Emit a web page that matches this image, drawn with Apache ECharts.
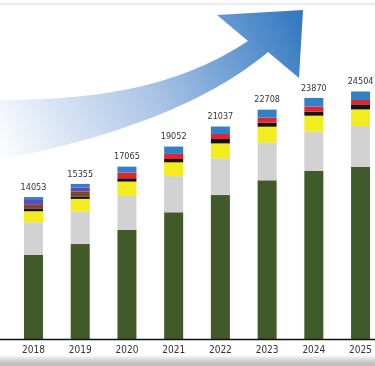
<!DOCTYPE html>
<html>
<head>
<meta charset="utf-8">
<script src="https://cdn.jsdelivr.net/npm/echarts@6/dist/echarts.min.js"></script>
<style>
html,body{margin:0;padding:0;background:#fff;}
#c{width:375px;height:366px;}
</style>
</head>
<body>
<div id="c"></div>
<script>
const years = ['2018','2019','2020','2021','2022','2023','2024','2025'];
const totals = [14053, 15355, 17065, 19052, 21037, 22708, 23870, 24504];
const greenVals  = [8350, 9400, 10795, 12542, 14247, 15708, 16670, 17054];
const grayVals   = [3200, 3220, 3370, 3590, 3630, 3730, 3860, 4030];
const yellowVals = [1100, 1250, 1420, 1360, 1490, 1580, 1580, 1650];
const blackVals  = [230, 240, 330, 330, 430, 400, 400, 500];
const brownVals  = [400, 500, 0, 0, 0, 0, 0, 0];
const redVals    = [0, 0, 550, 500, 500, 500, 500, 430];
const purpleVals = [480, 400, 0, 0, 0, 0, 0, 0];
const blueVals   = [293, 345, 600, 730, 740, 790, 860, 840];

const FONT = '"DejaVu Sans Condensed","Liberation Sans Narrow",sans-serif';

function mk(name, data, color, extra) {
  return Object.assign({
    name: name, type: 'bar', stack: 'total', data: data, barWidth: 19,
    itemStyle: { color: color }, silent: true
  }, extra || {});
}

// decorative arrow outline (bezier sampled into polygon)
function cubic(p0, p1, p2, p3, n) {
  const pts = [];
  for (let i = 0; i <= n; i++) {
    const t = i / n, u = 1 - t;
    pts.push([
      u*u*u*p0[0] + 3*u*u*t*p1[0] + 3*u*t*t*p2[0] + t*t*t*p3[0],
      u*u*u*p0[1] + 3*u*u*t*p1[1] + 3*u*t*t*p2[1] + t*t*t*p3[1]
    ]);
  }
  return pts;
}
const arrowPts = [].concat(
  cubic([0,100],[100,100],[180,86],[248,41], 40),
  [[217,15],[303,10],[299,78]],
  cubic([268,52],[205,105],[110,138],[0,160], 40)
);

const G = echarts.graphic;
const chart = echarts.init(document.getElementById('c'), null, { renderer: 'canvas' });
chart.setOption({
  animation: false,
  backgroundColor: '#ffffff',
  grid: { left: 33.5, right: 12.5, top: 36, bottom: 27, containLabel: false },
  xAxis: {
    type: 'category', data: years, boundaryGap: false,
    axisLine: { show: false }, axisTick: { show: false },
    axisLabel: { fontFamily: FONT, fontSize: 10, color: '#333', margin: 6 }
  },
  yAxis: { type: 'value', min: 0, max: 30000, show: false, splitLine: { show: false } },
  graphic: [
    {
      type: 'rect', z: 0,
      shape: { x: 0, y: 355, width: 375, height: 11 },
      style: { fill: new G.LinearGradient(0, 0, 0, 1, [
        { offset: 0, color: 'rgba(200,200,200,0)' }, { offset: 0.6, color: '#c9c9c9' }, { offset: 1, color: '#bdbdbd' }]) }
    },
    {
      type: 'rect', z: 0,
      shape: { x: 0, y: 2, width: 375, height: 4 },
      style: { fill: new G.LinearGradient(0, 0, 0, 1, [
        { offset: 0, color: 'rgba(230,230,230,0)' }, { offset: 0.5, color: '#ebebeb' }, { offset: 1, color: 'rgba(235,235,235,0)' }]) }
    },
    {
      type: 'polygon', z: 0,
      shape: { points: arrowPts },
      style: { fill: new G.LinearGradient(0, 1, 1, 0, [
        { offset: 0, color: 'rgba(255,255,255,1)' }, { offset: 0.2, color: '#dbe6f5' }, { offset: 0.5, color: '#a9c3e6' }, { offset: 1, color: '#2f76c0' }]) }
    },
    {
      type: 'line', z: 10,
      shape: { x1: 0, y1: 339.5, x2: 375, y2: 339.5 },
      style: { stroke: '#111', lineWidth: 1.5 }
    }
  ],
  series: [
    mk('green', greenVals, '#405a2a'),
    mk('gray', grayVals, '#d2d2d2'),
    mk('yellow', yellowVals, '#f3ec1e'),
    mk('black', blackVals, '#141414'),
    mk('brown', brownVals, '#7b4a25'),
    mk('red', redVals, '#e5232e'),
    mk('purple', purpleVals, '#6548b0'),
    mk('blue', blueVals, '#3380c4', {
      label: {
        show: true, position: 'top', distance: 5,
        fontFamily: FONT, fontSize: 9, color: '#333',
        formatter: function (p) { return String(totals[p.dataIndex]); }
      }
    })
  ]
});
</script>
</body>
</html>
